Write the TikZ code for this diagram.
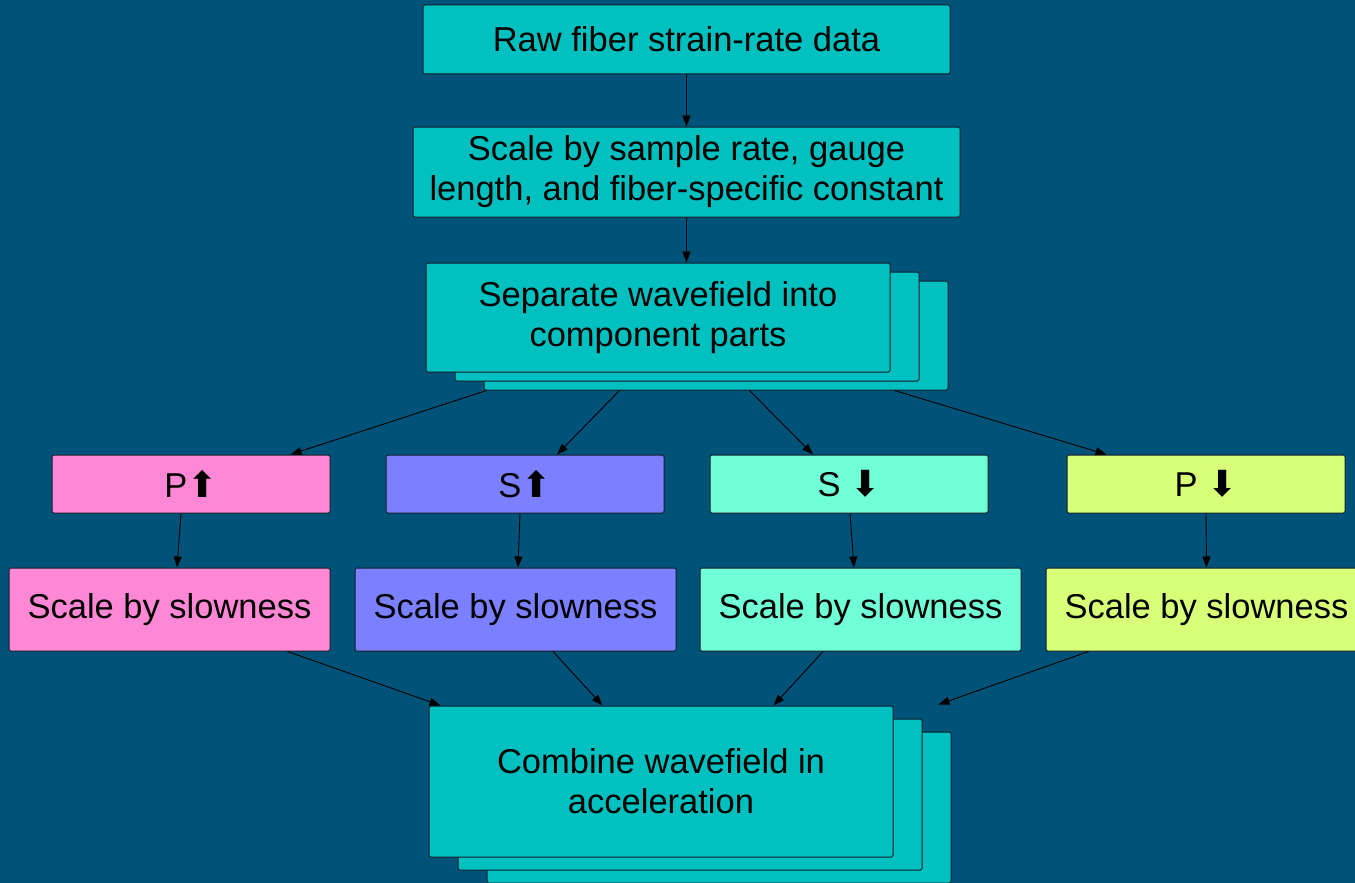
\documentclass[tikz,border=0pt]{standalone}
\usepackage{fontspec}
\setmainfont{Liberation Sans}
\newfontfamily\symfont{DejaVu Sans}
\usetikzlibrary{arrows.meta}

\definecolor{bgblue}{RGB}{0,82,120}
\definecolor{tealbox}{RGB}{0,192,192}
\definecolor{pinkbox}{RGB}{255,136,214}
\definecolor{bluebox}{RGB}{122,128,255}
\definecolor{aquabox}{RGB}{112,255,214}
\definecolor{limebox}{RGB}{216,255,120}
\definecolor{edge}{RGB}{20,30,40}

\newcommand{\upar}{{\symfont\fontsize{36}{40}\selectfont\char"2B06}}
\newcommand{\dnar}{{\symfont\fontsize{36}{40}\selectfont\char"2B07}}

\begin{document}
\begin{tikzpicture}[x=1pt,y=-1pt,
  box/.style={draw=edge, line width=1pt, rounded corners=1.5pt, align=center,
    inner sep=0pt, font=\fontsize{34.5}{40}\selectfont},
  tealfill/.style={box, fill=tealbox},
  conn/.style={draw=black, line width=0.9pt, -{Triangle[length=11pt,width=8pt]}}
]
% canvas
\fill[bgblue] (0,0) rectangle (1355,883);
\useasboundingbox (0,0) rectangle (1355,883);

% top chain
\node[tealfill, minimum width=527pt, minimum height=69pt] (raw) at (686.5,39.5)
  {Raw fiber strain-rate data};
\node[tealfill, minimum width=547pt, minimum height=90pt] (scl) at (686.5,172)
  {Scale by sample rate, gauge\\length, and fiber-specific constant};

% separation stack (back to front)
\node[tealfill, minimum width=464pt, minimum height=109pt] (sepC) at (716,335.5) {};
\node[tealfill, minimum width=464pt, minimum height=109pt] (sepB) at (687,326.5) {};
\node[tealfill, minimum width=464pt, minimum height=109pt] (sepA) at (658,317.5)
  {Separate wavefield into\\component parts};

% wave components
\node[box, fill=pinkbox, minimum width=278pt, minimum height=58pt] (pu) at (191,484) {P\upar};
\node[box, fill=bluebox, minimum width=278pt, minimum height=58pt] (su) at (525,484) {S\upar};
\node[box, fill=aquabox, minimum width=278pt, minimum height=58pt] (sd) at (849,484) {S \dnar};
\node[box, fill=limebox, minimum width=278pt, minimum height=58pt] (pd) at (1206,484) {P \dnar};

% slowness scaling
\node[box, fill=pinkbox, minimum width=321pt, minimum height=83pt] (ps) at (169.5,609.5) {Scale by slowness};
\node[box, fill=bluebox, minimum width=321pt, minimum height=83pt] (bs) at (515.5,609.5) {Scale by slowness};
\node[box, fill=aquabox, minimum width=321pt, minimum height=83pt] (as) at (860.5,609.5) {Scale by slowness};
\node[box, fill=limebox, minimum width=321pt, minimum height=83pt] (ys) at (1206.5,609.5) {Scale by slowness};

% combination stack (back to front)
\node[tealfill, minimum width=464pt, minimum height=151pt] (cmbC) at (719,807.5) {};
\node[tealfill, minimum width=464pt, minimum height=151pt] (cmbB) at (690,794.5) {};
\node[tealfill, minimum width=464pt, minimum height=151pt] (cmbA) at (661,781.5)
  {Combine wavefield in\\acceleration};
\coordinate (cmbIn) at ([xshift=45pt,yshift=1pt]cmbA.north east);

% connectors
\draw[conn] (raw.south) -- (scl.north);
\draw[conn] (scl.south) -- ([xshift=28.5pt]sepA.north);

\draw[conn] ([xshift=3pt]sepC.south west) -- ([xshift=-40pt]pu.north east);
\draw[conn] ([xshift=136pt]sepC.south west) -- ([xshift=32pt]su.north);
\draw[conn] ([xshift=266pt]sepC.south west) -- ([xshift=-36pt]sd.north);
\draw[conn] ([xshift=411pt]sepC.south west) -- ([xshift=40pt]pd.north west);

\draw[conn] ([xshift=-10pt]pu.south) -- ([xshift=7.5pt]ps.north);
\draw[conn] ([xshift=-5pt]su.south) -- ([xshift=2.5pt]bs.north);
\draw[conn] ([xshift=1pt]sd.south) -- ([xshift=-6.5pt]as.north);
\draw[conn] (pd.south) -- (ys.north);

\draw[conn] ([xshift=-43pt]ps.south east) -- ([xshift=12pt]cmbA.north west);
\draw[conn] ([xshift=37.5pt]bs.south) -- ([xshift=174pt]cmbA.north west);
\draw[conn] ([xshift=-37.5pt]as.south) -- ([xshift=345pt]cmbA.north west);
\draw[conn] ([xshift=43pt]ys.south west) -- (cmbIn);
\end{tikzpicture}
\end{document}
